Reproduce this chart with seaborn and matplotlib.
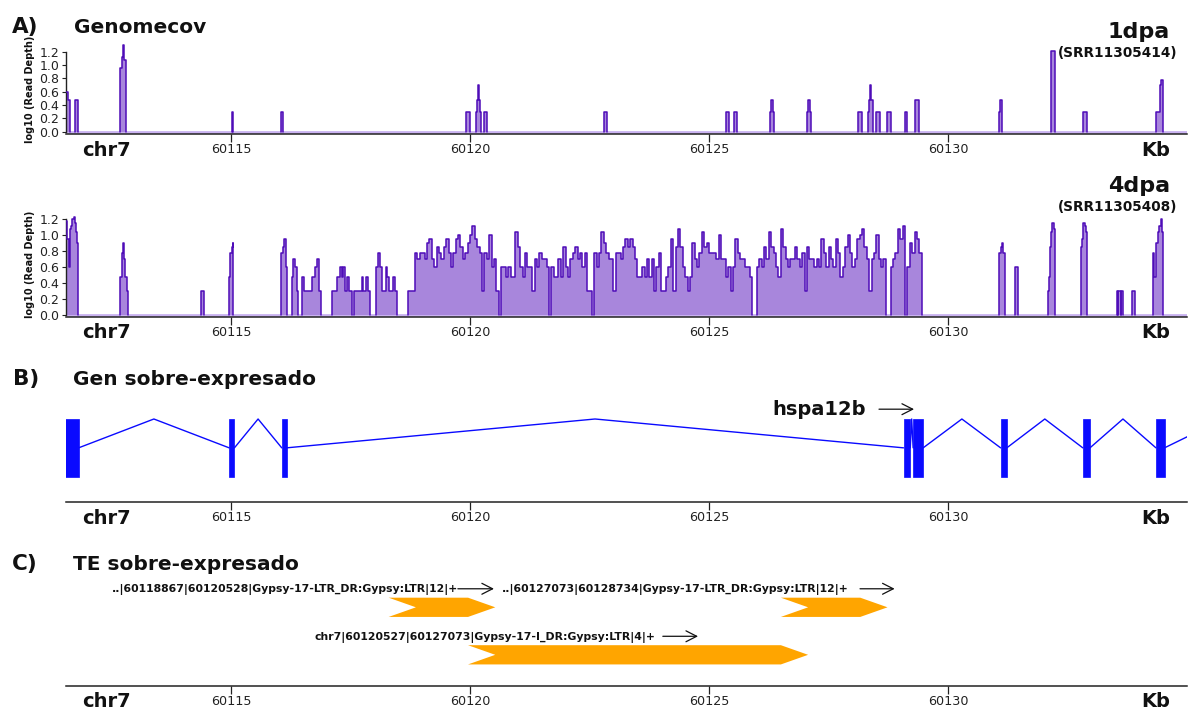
import numpy as np
import pandas as pd
import matplotlib
matplotlib.use("Agg")
import matplotlib.pyplot as plt
import seaborn as sns
from matplotlib.patches import Polygon, Rectangle

sns.set_style("white")
plt.rcParams["font.family"] = ["DejaVu Sans"]

W, H = 1188, 709

# ---------------- data ----------------
region = (60111.54, 60135.0)
xticks = [60115, 60120, 60125, 60130]
xtick_labels = ["60115", "60120", "60125", "60130"]
yticks = [0.0, 0.2, 0.4, 0.6, 0.8, 1.0, 1.2]
ytick_labels = ["0.0", "0.2", "0.4", "0.6", "0.8", "1.0", "1.2"]

# 1dpa (SRR11305414) coverage: segment start / end (kb) and read depth
dpa1_start = [60111.50, 60111.590, 60111.736, 60112.678, 60112.713, 60112.741, 60112.762,
              60115.027, 60116.046, 60119.923, 60120.126, 60120.153, 60120.174, 60120.188,
              60120.209, 60120.287, 60122.797, 60125.349, 60125.523, 60126.276, 60126.297,
              60126.339, 60127.044, 60127.071, 60127.113, 60128.123, 60128.333, 60128.354,
              60128.374, 60128.395, 60128.425, 60128.487, 60128.724, 60129.100, 60129.303,
              60131.067, 60131.082, 60131.123, 60132.155, 60132.824, 60134.358, 60134.435,
              60134.450]
dpa1_end = [60111.590, 60111.632, 60111.805, 60112.713, 60112.741, 60112.762, 60112.803,
            60115.048, 60116.081, 60120.000, 60120.153, 60120.174, 60120.188, 60120.209,
            60120.230, 60120.349, 60122.872, 60125.418, 60125.592, 60126.297, 60126.339,
            60126.360, 60127.071, 60127.113, 60127.128, 60128.201, 60128.354, 60128.374,
            60128.395, 60128.425, 60128.437, 60128.577, 60128.801, 60129.149, 60129.387,
            60131.082, 60131.123, 60131.136, 60132.238, 60132.902, 60134.435, 60134.450,
            60134.492]
dpa1_depth = [3, 2, 2, 8, 12, 19, 11,
              1, 1, 1, 1, 2, 4, 2,
              1, 1, 1, 1, 1, 1, 2,
              1, 1, 2, 1, 1, 1, 2,
              4, 2, 1, 1, 1, 1, 2,
              1, 2, 1, 15, 1, 1, 4,
              5]

# 4dpa (SRR11305408) coverage, sparse parts: segment start / end (kb) and read depth
dpa4_start = [60111.50, 60111.57, 60111.60, 60111.62, 60111.65, 60111.68, 60111.715, 60111.735,
              60111.755, 60111.78,
              60112.678, 60112.713, 60112.734, 60112.755, 60112.782, 60112.814,
              60114.372,
              60114.958, 60114.979, 60115.010, 60115.031,
              60116.046, 60116.094, 60116.115, 60116.144, 60116.161,
              60116.270, 60116.303, 60116.333, 60116.381,
              60116.492, 60116.527, 60116.695, 60116.757, 60116.789, 60116.841,
              60117.119, 60117.211, 60117.280, 60117.316, 60117.343, 60117.385, 60117.427,
              60117.469,
              60117.573, 60117.734, 60117.768, 60117.824, 60117.872,
              60118.033, 60118.065, 60118.117, 60118.149, 60118.243, 60118.270, 60118.305,
              60118.389, 60118.431,
              60131.067, 60131.102, 60131.130, 60131.157,
              60131.402,
              60132.086, 60132.107, 60132.128, 60132.149, 60132.169, 60132.218,
              60132.776, 60132.803, 60132.831, 60132.860, 60132.887,
              60133.529, 60133.565, 60133.615,
              60133.843,
              60134.282, 60134.310, 60134.351, 60134.387, 60134.421, 60134.456, 60134.477]
dpa4_end = [60111.57, 60111.60, 60111.62, 60111.65, 60111.68, 60111.715, 60111.735, 60111.755,
            60111.78, 60111.805,
            60112.713, 60112.734, 60112.755, 60112.782, 60112.814, 60112.839,
            60114.435,
            60114.979, 60115.010, 60115.031, 60115.048,
            60116.094, 60116.115, 60116.144, 60116.161, 60116.178,
            60116.303, 60116.333, 60116.381, 60116.408,
            60116.527, 60116.695, 60116.757, 60116.789, 60116.841, 60116.877,
            60117.211, 60117.280, 60117.316, 60117.343, 60117.385, 60117.427, 60117.469,
            60117.525,
            60117.734, 60117.768, 60117.824, 60117.872, 60117.908,
            60118.065, 60118.117, 60118.149, 60118.243, 60118.270, 60118.305, 60118.389,
            60118.431, 60118.467,
            60131.102, 60131.130, 60131.157, 60131.192,
            60131.471,
            60132.107, 60132.128, 60132.149, 60132.169, 60132.218, 60132.238,
            60132.803, 60132.831, 60132.860, 60132.887, 60132.902,
            60133.560, 60133.610, 60133.667,
            60133.912,
            60134.310, 60134.351, 60134.387, 60134.421, 60134.456, 60134.477, 60134.492]
dpa4_depth = [14, 8, 3, 11, 12, 15, 16, 13,
              10, 7,
              2, 5, 7, 4, 2, 1,
              1,
              2, 5, 6, 7,
              5, 6, 8, 3, 1,
              2, 4, 3, 1,
              2, 1, 2, 3, 4, 1,
              1, 2, 3, 2, 3, 1, 2,
              1,
              1, 2, 1, 2, 1,
              3, 5, 3, 1, 3, 2, 1,
              2, 1,
              5, 6, 7, 5,
              3,
              1, 2, 6, 10, 13, 11,
              6, 8, 13, 12, 10,
              1, 1, 1,
              1,
              5, 2, 7, 10, 12, 15, 10]

# 4dpa dense part: read depth in consecutive 50 bp bins starting at 60118.70 kb
dense_start_kb = 60118.70
dense_bin_kb = 0.05
dense_depth = [1, 1, 1, 5, 4, 5, 5, 4, 7, 8,
               4, 3, 6, 5, 4, 6, 8, 5, 3, 5,
               8, 9, 6, 4, 5, 7, 9, 12, 8, 6,
               5, 1, 5, 4, 9, 3, 4, 1, 0, 3,
               3, 2, 3, 2, 2, 10, 6, 3, 2, 5,
               3, 3, 1, 4, 3, 5, 4, 4, 3, 0,
               3, 2, 2, 4, 2, 6, 3, 2, 4, 5,
               6, 4, 5, 3, 5, 1, 1, 0, 5, 3,
               5, 10, 7, 5, 4, 4, 1, 5, 5, 4,
               6, 8, 6, 8, 6, 4, 2, 2, 3, 2,
               4, 2, 4, 1, 3, 5, 1, 1, 2, 3,
               8, 1, 6, 11, 6, 3, 2, 1, 2, 7,
               4, 3, 5, 10, 6, 7, 5, 5, 5, 4,
               9, 4, 4, 2, 3, 1, 3, 8, 5, 4,
               4, 3, 3, 2, 0, 0, 3, 4, 3, 6,
               4, 10, 6, 5, 3, 2, 11, 6, 4, 3,
               4, 4, 6, 4, 3, 5, 1, 6, 4, 4,
               3, 4, 3, 8, 5, 3, 6, 4, 3, 8,
               5, 2, 3, 6, 9, 5, 3, 4, 8, 9,
               11, 6, 4, 1, 4, 5, 9, 4, 3, 4,
               0, 0, 3, 4, 5, 11, 8, 12, 0, 3,
               7, 5, 10, 8, 5]

# hspa12b exons (kb)
exon_start = [60111.40, 60114.96, 60116.06, 60129.07, 60129.27, 60131.10, 60132.82, 60134.35, 60137.00]
exon_end = [60111.81, 60115.07, 60116.16, 60129.21, 60129.48, 60131.23, 60132.97, 60134.53, 60137.20]
gene_name = "hspa12b"
gene_label_x = 60128.284
gene_arrow = (60128.556, 60129.289)

# over-expressed TEs
te_start = [60118.867, 60127.073, 60120.527]
te_end = [60120.528, 60128.734, 60127.073]
te_row = [0, 0, 1]
te_label_x = [60112.51, 60120.67, 60116.74]
te_arrow_from = [60119.745, 60128.159, 60124.033]
te_arrow_to = [60120.500, 60128.883, 60124.770]
te_names = ["..|60118867|60120528|Gypsy-17-LTR_DR:Gypsy:LTR|12|+",
            "..|60127073|60128734|Gypsy-17-LTR_DR:Gypsy:LTR|12|+",
            "chr7|60120527|60127073|Gypsy-17-I_DR:Gypsy:LTR|4|+"]

# ---------------- styling ----------------
FILL = "#a886dc"
LINE = "#4e0cb8"
BASE = "#c9b2f0"
GENE = "#0a0aff"
TE = "#ffa500"
INK = "#111111"


def px(x):
    return x / W


def py(y):
    return 1 - y / H


def cov_frame(starts, ends, depths):
    df = pd.DataFrame({"s": starts, "e": ends, "d": depths}).sort_values("s")
    df = df[df.d > 0].reset_index(drop=True)
    blocks, cur, prev_end = [], [], None
    for s, e, d in df.itertuples(index=False):
        if prev_end is None or s > prev_end + 1e-6:
            if cur:
                blocks.append(cur)
            cur = []
        cur.append((s, e, np.log10(d + 1)))
        prev_end = e
    if cur:
        blocks.append(cur)
    pts = []
    for k, blk in enumerate(blocks):
        pts.append((k, blk[0][0], 0.0))
        for s, e, v in blk:
            pts.append((k, s, v))
        pts.append((k, blk[-1][1], 0.0))
    return pd.DataFrame(pts, columns=["block", "pos", "val"])


def axes_px(top, bottom, left=65.7, right=1187.0):
    return fig.add_axes([px(left), py(bottom), px(right - left), (bottom - top) / H])


def style_x(ax, spine_y):
    ax.set_xlim(region)
    for sp in ["top", "right"]:
        ax.spines[sp].set_visible(False)
    ax.spines["bottom"].set_color("#222222")
    ax.spines["bottom"].set_linewidth(1.1)
    ax.set_xticks(xticks, xtick_labels)
    ax.tick_params(axis="x", direction="out", length=6, width=0.9, pad=0.5,
                   labelsize=9.2, colors="#222222", bottom=True)
    ax.set_xlabel("")
    fig.text(px(82), py(spine_y + 21.5), "chr7", fontsize=14, fontweight="bold",
             ha="left", va="baseline", color=INK)
    fig.text(px(1170), py(spine_y + 21.5), "Kb", fontsize=14, fontweight="bold",
             ha="right", va="baseline", color=INK)


def draw_cov(ax, df, ylim, spine_y):
    ax.axhline(0, color=BASE, lw=2.0, zorder=1)
    for k, g in df.groupby("block"):
        ax.fill_between(g.pos.values, g.val.values, 0, step="post", color=FILL, lw=0, zorder=2)
    sns.lineplot(data=df, x="pos", y="val", units="block", estimator=None, sort=False,
                 drawstyle="steps-post", color=LINE, lw=1.1, ax=ax, legend=False, zorder=3)
    ax.set_ylim(ylim)
    style_x(ax, spine_y)
    ax.spines["left"].set_bounds(0, 1.2)
    ax.spines["left"].set_color("#222222")
    ax.spines["left"].set_linewidth(1.0)
    ax.set_yticks(yticks, ytick_labels)
    ax.tick_params(axis="y", direction="out", length=3, width=0.8, pad=1.5,
                   labelsize=9, colors="#222222", left=True)
    ax.set_ylabel("log10 (Read Depth)", fontsize=7, fontweight="bold", labelpad=3, color=INK)


def strand_arrow(ax, x0, x1, y):
    ax.annotate("", xy=(x1, y), xytext=(x0, y),
                arrowprops=dict(arrowstyle="->,head_length=0.55,head_width=0.28", lw=0.9,
                                color=INK, shrinkA=0, shrinkB=0, mutation_scale=14))


fig = plt.figure(figsize=(W / 100, H / 100), dpi=100)

# ---- panel A: 1dpa ----
ax1 = axes_px(43.7, 134.3)
draw_cov(ax1, cov_frame(dpa1_start, dpa1_end, dpa1_depth), (-0.039, 1.32), 134.3)

# ---- panel A: 4dpa ----
dense_s = [dense_start_kb + dense_bin_kb * i for i in range(len(dense_depth))]
dense_e = [s + dense_bin_kb for s in dense_s]
ax2 = axes_px(211.0, 316.7)
draw_cov(ax2, cov_frame(dpa4_start + dense_s, dpa4_end + dense_e, dpa4_depth + dense_depth),
         (-0.021, 1.3), 316.7)

# ---- panel B: gene ----
ax3 = axes_px(395.0, 502.3)
for s, e in zip(exon_start, exon_end):
    ax3.add_patch(Rectangle((s, 0), e - s, 1, facecolor=GENE, edgecolor=GENE, lw=0.5))
for e1, s2 in zip(exon_end[:-1], exon_start[1:]):
    ax3.plot([e1, (e1 + s2) / 2, s2], [0.5, 1.0, 0.5], color=GENE, lw=1.0)
ax3.set_ylim(-0.444, 1.416)
ax3.spines["left"].set_visible(False)
ax3.set_yticks([])
style_x(ax3, 502.3)
ax3.text(gene_label_x, 1.07, gene_name, fontsize=14, fontweight="bold",
         ha="right", va="baseline", color=INK)
strand_arrow(ax3, gene_arrow[0], gene_arrow[1], 1.17)

# ---- panel C: TEs ----
ax4 = axes_px(575.0, 685.7)
n_kb = 0.57
hh = 0.2025
for s, e, r in zip(te_start, te_end, te_row):
    verts = [(s - n_kb, r - hh), (e - n_kb, r - hh), (e, r), (e - n_kb, r + hh),
             (s - n_kb, r + hh), (s, r)]
    ax4.add_patch(Polygon(verts, closed=True, facecolor=TE, edgecolor="none"))
for lx, r, name, a0, a1 in zip(te_label_x, te_row, te_names, te_arrow_from, te_arrow_to):
    ax4.text(lx, r - 0.315, name, fontsize=7.82, fontweight="bold",
             ha="left", va="baseline", color=INK)
    strand_arrow(ax4, a0, a1, r - 0.39)
ax4.set_ylim(1.65, -0.68)
ax4.spines["left"].set_visible(False)
ax4.set_yticks([])
style_x(ax4, 685.7)

# ---- titles ----
titles = [("A)", 12, 33, 15.5, "left"), ("Genomecov", 74, 33, 14.5, "left"),
          ("1dpa", 1170, 38, 16, "right"), ("(SRR11305414)", 1177, 57, 9.8, "right"),
          ("4dpa", 1170, 192, 16, "right"), ("(SRR11305408)", 1177, 211, 9.8, "right"),
          ("B)", 13, 385, 15.5, "left"), ("Gen sobre-expresado", 73, 385, 14.5, "left"),
          ("C)", 12, 570, 15.5, "left"), ("TE sobre-expresado", 73, 570, 14.5, "left")]
for t, x, y, fs, ha in titles:
    fig.text(px(x), py(y), t, fontsize=fs, fontweight="bold", ha=ha, va="baseline", color=INK)

fig.savefig("out.png", dpi=100)
